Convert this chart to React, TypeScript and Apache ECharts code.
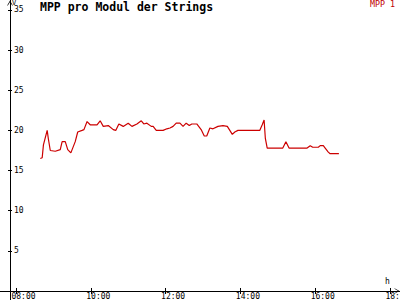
import React, { useEffect, useRef } from "react";
import * as echarts from "echarts";

const times = [
  "08:39", "08:42", "08:44", "08:50", "08:52", "08:55", "09:03", "09:11", "09:14", "09:19",
  "09:23", "09:28", "09:35", "09:39", "09:46", "09:49", "09:54", "09:59", "10:10", "10:15",
  "10:20", "10:28", "10:36", "10:40", "10:45", "10:52", "11:00", "11:06", "11:14", "11:21",
  "11:25", "11:30", "11:37", "11:40", "11:45", "11:56", "12:02", "12:07", "12:12", "12:17",
  "12:23", "12:28", "12:33", "12:38", "12:42", "12:50", "12:57", "13:02", "13:06", "13:11",
  "13:16", "13:24", "13:32", "13:39", "13:43", "13:47", "13:51", "13:56", "14:06", "14:31",
  "14:35", "14:38", "14:40", "14:43", "15:08", "15:13", "15:18", "15:47", "15:52", "15:56",
  "16:05", "16:08", "16:13", "16:16", "16:21", "16:24", "16:38",
];
const mpp1 = [
  16.5, 16.6, 18.2, 20.0, 18.9, 17.5, 17.4, 17.6, 18.6, 18.6,
  17.6, 17.2, 18.6, 19.8, 20.0, 20.1, 21.1, 20.7, 20.7, 21.2,
  20.5, 20.6, 20.1, 20.0, 20.8, 20.5, 20.9, 20.5, 20.8, 21.2,
  20.8, 20.9, 20.5, 20.5, 20.0, 20.0, 20.2, 20.3, 20.5, 20.9,
  20.9, 20.5, 20.9, 20.6, 20.8, 20.8, 20.1, 19.3, 19.3, 20.3,
  20.2, 20.5, 20.6, 20.5, 20.0, 19.5, 19.8, 20.0, 20.0, 20.0,
  20.7, 21.3, 19.0, 17.8, 17.8, 18.6, 17.8, 17.8, 18.1, 17.9,
  17.9, 18.1, 18.1, 17.8, 17.3, 17.1, 17.1,
];
const xTicks = [8, 10, 12, 14, 16, 18];
const yTicks = [5, 10, 15, 20, 25, 30, 35];
const seriesName = "MPP 1";
const title = "MPP pro Modul der Strings";

const FONT = "DejaVu Sans Mono";
const RED = "#cc0000";
const arrow = "path://M0,7 L4,0 L8,7 L7,7 L4,2 L1,7 Z";

const X_MIN = 7.572;
const X_MAX = 18.267;
const Y_MIN = -1.121;
const Y_MAX = 36.24;

function toHours(t: string): number {
  const [h, m] = t.split(":").map(Number);
  return h + m / 60;
}

export default function App() {
  const ref = useRef<HTMLDivElement>(null);
  useEffect(() => {
    if (!ref.current) return;
    const chart = echarts.init(ref.current, undefined, { renderer: "svg" });
    const data = times.map((t, i) => [toHours(t), mpp1[i]]);
    const xBase = {
      type: "value" as const,
      min: X_MIN,
      max: X_MAX,
      position: "bottom" as const,
      splitLine: { show: false },
    };
    const yBase = {
      type: "value" as const,
      min: Y_MIN,
      max: Y_MAX,
      position: "left" as const,
      offset: -10,
      splitLine: { show: false },
    };
    chart.setOption({
      animation: false,
      backgroundColor: "#ffffff",
      title: {
        text: title,
        left: 40,
        top: 1,
        padding: 0,
        textStyle: { fontFamily: FONT, fontWeight: "bold", fontSize: 11.5, color: "#000" },
      },
      legend: {
        data: [{ name: seriesName, icon: "none" }],
        right: 5,
        top: 0,
        padding: 0,
        itemWidth: 0,
        itemHeight: 0,
        textStyle: { fontFamily: FONT, fontSize: 8.3, color: "#c00000", padding: 0 },
      },
      grid: { left: 0, right: 0, top: 0, bottom: 0, containLabel: false, outerBoundsMode: "none" },
      xAxis: [
        {
          ...xBase,
          axisLine: {
            show: true,
            onZero: true,
            symbol: ["none", arrow],
            symbolSize: [7, 5],
            symbolOffset: [0, -3],
            lineStyle: { color: "#000", width: 1 },
          },
          axisTick: { show: true, length: 3, customValues: xTicks, lineStyle: { color: "#000" } },
          axisLabel: {
            show: true,
            customValues: xTicks,
            margin: -8,
            fontFamily: FONT,
            fontSize: 8,
            lineHeight: 8,
            color: "#000",
            padding: [0, 0, 0, 15],
            formatter: (v: number) => String(Math.round(v)).padStart(2, "0") + ":00",
          },
        },
        {
          ...xBase,
          axisLine: { show: false, onZero: true },
          axisTick: { show: true, inside: true, length: 3, customValues: xTicks, lineStyle: { color: "#000" } },
          axisLabel: { show: false },
        },
      ],
      yAxis: [
        {
          ...yBase,
          axisLine: {
            show: true,
            onZero: false,
            symbol: ["none", arrow],
            symbolSize: [7, 5],
            symbolOffset: [0, -3],
            lineStyle: { color: "#000", width: 1 },
          },
          axisTick: { show: true, length: 2, customValues: yTicks, lineStyle: { color: "#000" } },
          axisLabel: {
            show: true,
            inside: true,
            margin: 4,
            customValues: yTicks,
            fontFamily: FONT,
            fontSize: 8,
            color: "#000",
          },
        },
        {
          ...yBase,
          axisLine: { show: false, onZero: false },
          axisTick: { show: true, inside: true, length: 2, customValues: yTicks, lineStyle: { color: "#000" } },
          axisLabel: { show: false },
        },
      ],
      graphic: [
        {
          type: "text",
          left: 12,
          top: -1,
          style: { text: "V", fontFamily: FONT, fontSize: 7, fill: "#000" },
        },
        {
          type: "text",
          left: 385,
          top: 277,
          style: { text: "h", fontFamily: FONT, fontSize: 8, fill: "#000" },
        },
      ],
      series: [
        {
          name: seriesName,
          type: "line",
          data,
          showSymbol: false,
          symbol: "none",
          lineStyle: { color: RED, width: 1.2 },
          itemStyle: { color: RED },
        },
      ],
    });
    return () => chart.dispose();
  }, []);
  return (
    <div
      ref={ref}
      style={{ position: "fixed", left: 0, top: 0, width: 400, height: 300 }}
    />
  );
}
